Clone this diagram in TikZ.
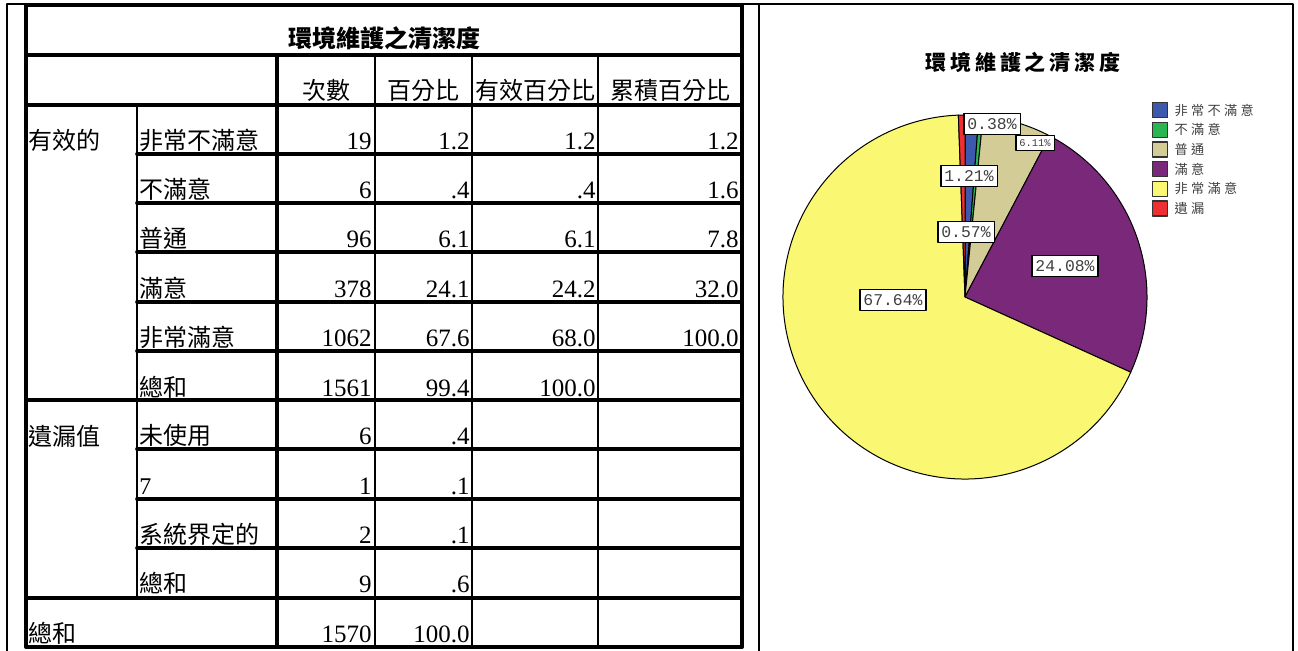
\documentclass[tikz,border=0pt]{standalone}
\usepackage{fontspec}
\usepackage{tikz}
\usetikzlibrary{positioning}
\setmainfont{Liberation Serif}
\newfontfamily\cjk{Noto Sans CJK TC}
\newfontfamily\cjkwide[LetterSpace=25]{Noto Sans CJK TC}
\newfontfamily\cjktitle[LetterSpace=18]{Noto Sans CJK TC}
\newfontfamily\pct{Liberation Mono}
\definecolor{pieblue}{rgb}{0.24,0.35,0.68}
\definecolor{piegreen}{rgb}{0.16,0.71,0.31}
\definecolor{pietan}{rgb}{0.83,0.80,0.59}
\definecolor{piepurple}{rgb}{0.48,0.16,0.48}
\definecolor{pieyellow}{rgb}{0.98,0.97,0.45}
\definecolor{piered}{rgb}{0.93,0.19,0.20}
\begin{document}
\begin{tikzpicture}[line cap=round,line join=round,x=0.5pt,y=-0.5pt,
  cell/.style={inner sep=0pt,anchor=base west,font=\cjk\fontsize{12}{14}\selectfont},
  head/.style={inner sep=0pt,anchor=base,font=\cjk\fontsize{12}{14}\selectfont},
  num/.style={inner sep=0pt,anchor=base east,font=\fontsize{12.5}{14}\selectfont},
  pctbox/.style={draw=black,line width=0.7pt,fill=white,inner xsep=1.8pt,inner ysep=2.6pt,font=\pct\fontsize{8.2}{9}\selectfont,text=black!75},
  legsq/.style={draw=black!80,line width=0.7pt,minimum size=7.5pt,inner sep=0pt},
  legtxt/.style={inner sep=0pt,font=\cjkwide\fontsize{6.6}{7}\selectfont,text=black!75}]
\useasboundingbox (0,0) rectangle (1298,650);
% outer frame
\draw[line width=1pt] (7,660) -- (7,4) -- (1293,4) -- (1293,660);
\draw[line width=1pt] (759,4) -- (759,660);
% table frame
\draw[line width=2pt] (26,5) rectangle (742,647);
\draw[line width=2pt] (26,55) -- (742,55);
\draw[line width=2pt] (26,105) -- (742,105);
\draw[line width=1.8pt] (26,400) -- (742,400);
\draw[line width=1.8pt] (26,598) -- (742,598);
\foreach \y in {154,203,252,302,351,449,499,548}
  \draw[line width=1.8pt] (137,\y) -- (742,\y);
\draw[line width=1pt] (137,105) -- (137,598);
\draw[line width=2pt] (277,55) -- (277,647);
\foreach \x in {375,472,598}
  \draw[line width=1pt] (\x,55) -- (\x,647);
% title and header
\node[head,font=\cjk\bfseries\fontsize{12}{14}\selectfont] (ttl) at (384,47) {環境維護之清潔度};
\node[head] (hn) at (326,99) {次數};
\node[head] (hp) at (423,99) {百分比};
\node[head] (hv) at (535,99) {有效百分比};
\node[head] (hc) at (670,99) {累積百分比};
% rows
\node[cell] (grpa) at (28,149) {有效的};
\node[cell] (grpb) at (28,445) {遺漏值};
\node[cell] (grpc) at (28,642) {總和};
\foreach \i/\lab/\n/\p/\v/\c in {1/非常不滿意/19/1.2/1.2/1.2,2/不滿意/6/.4/.4/1.6,3/普通/96/6.1/6.1/7.8,
    4/滿意/378/24.1/24.2/32.0,5/非常滿意/1062/67.6/68.0/100.0}{
  \pgfmathsetmacro\yb{105+49.27*\i-5}
  \node[cell] (lab\i) at (139,\yb) {\lab};
  \node[num] (n\i) at (372,\yb) {\n};
  \node[num] (p\i) at (470,\yb) {\p};
  \node[num] (v\i) at (596,\yb) {\v};
  \node[num] (c\i) at (739,\yb) {\c};
}
\node[cell] (lab6) at (139,396) {總和};
\node[num] (n6) at (372,396) {1561};
\node[num] (p6) at (470,396) {99.4};
\node[num] (v6) at (596,396) {100.0};
\foreach \i/\lab/\n/\p in {7/未使用/6/.4,8/{\rmfamily 7}/1/.1,9/系統界定的/2/.1,10/總和/9/.6}{
  \pgfmathsetmacro\yb{105+49.27*\i-5}
  \node[cell] (lab\i) at (139,\yb) {\lab};
  \node[num] (n\i) at (372,\yb) {\n};
  \node[num] (p\i) at (470,\yb) {\p};
}
\node[num] (n11) at (372,642) {1570};
\node[num] (p11) at (470,642) {100.0};
% pie
\node[font=\cjktitle\bfseries\fontsize{10.5}{12}\selectfont,inner sep=0pt] (ctitle) at (1023,62) {環境維護之清潔度};
\coordinate (ctr) at (965,297);
\foreach \a/\b/\col in {-90/-85.644/pieblue,-85.644/-84.276/piegreen,-84.276/-62.28/pietan,
    -62.28/24.408/piepurple,24.408/267.912/pieyellow,267.912/270/piered}
  \filldraw[fill=\col,draw=black,line width=0.5pt] (ctr) -- ++(\a:182) arc[start angle=\a,end angle=\b,radius=182] -- cycle;
\node[pctbox] (l038) at (992,124) {0.38\%};
\node[pctbox,font=\pct\fontsize{5.2}{6}\selectfont,inner ysep=2pt] (l611) at (1035,143) {6.11\%};
\node[pctbox] (l121) at (969,176) {1.21\%};
\node[pctbox] (l057) at (966,232) {0.57\%};
\node[pctbox] (l2408) at (1065,266) {24.08\%};
\node[pctbox] (l6764) at (893,300) {67.64\%};
% legend
\foreach \i/\col/\txt in {0/pieblue/非常不滿意,1/piegreen/不滿意,2/pietan/普通,3/piepurple/滿意,4/pieyellow/非常滿意,5/piered/遺漏}{
  \node[legsq,fill=\col] (sq\i) at (1160,110+19.7*\i) {};
  \node[legtxt,right=3pt of sq\i] (lg\i) {\txt};
}
\end{tikzpicture}
\end{document}
